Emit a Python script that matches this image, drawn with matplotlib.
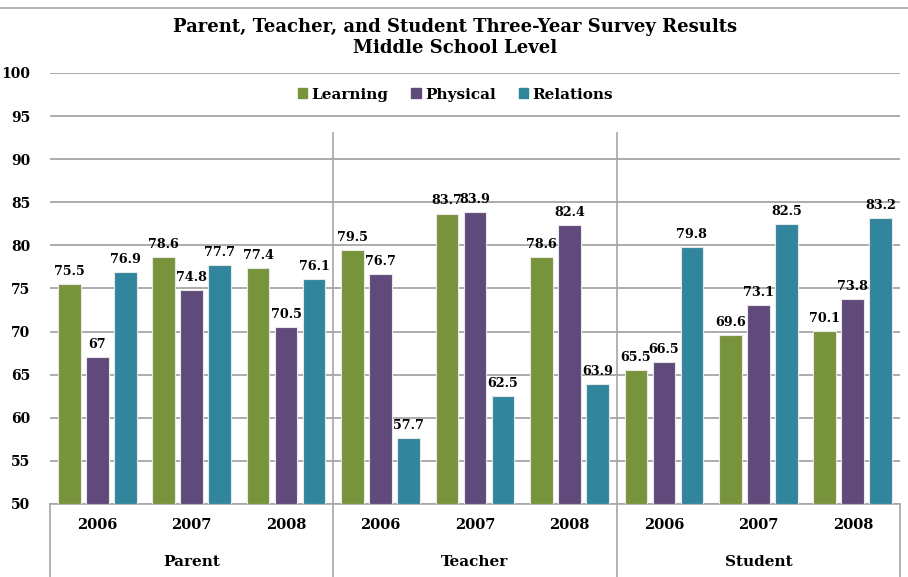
import matplotlib.pyplot as plt
from matplotlib.patches import Patch
from matplotlib.lines import Line2D
import numpy as np

groups = ['Parent', 'Teacher', 'Student']
years = ['2006', '2007', '2008']
series = ['Learning', 'Physical', 'Relations']
colors = ['#77933C', '#604A7B', '#31859C']

learning = [75.5, 78.6, 77.4, 79.5, 83.7, 78.6, 65.5, 69.6, 70.1]
physical = [67, 74.8, 70.5, 76.7, 83.9, 82.4, 66.5, 73.1, 73.8]
relations = [76.9, 77.7, 76.1, 57.7, 62.5, 63.9, 79.8, 82.5, 83.2]

plt.rcParams['font.family'] = 'DejaVu Serif'
plt.rcParams['font.weight'] = 'bold'

fig = plt.figure(figsize=(9.08, 5.77), dpi=100)
ax = fig.add_axes([50 / 908, 73 / 577, 850 / 908, 431 / 577])

x = np.arange(len(learning))
width = 0.24
step = 0.296
for i, (vals, c) in enumerate(zip([learning, physical, relations], colors)):
    pos = x + (i - 1) * step
    ax.bar(pos, [v - 50 for v in vals], width, bottom=50, color=c,
           edgecolor='#e8e8e8', linewidth=0.8, zorder=3)
    for p, v in zip(pos, vals):
        ax.text(p, v + 0.7, f'{v:g}', ha='center', va='bottom',
                fontsize=9.2, fontweight='bold', zorder=4)

ax.set_xlim(-0.5, 8.5)
ax.set_ylim(50, 100)
ax.set_yticks(range(50, 101, 5))
ax.yaxis.grid(True, color='#a6a6a6', linewidth=1.3, zorder=0)
ax.tick_params(axis='y', length=0, pad=14, labelsize=10)
ax.set_xticks([])
for s in ['left', 'right', 'top']:
    ax.spines[s].set_visible(False)
ax.spines['bottom'].set_color('#a6a6a6')
ax.spines['bottom'].set_linewidth(1.2)
for t in ax.get_yticklabels():
    t.set_fontweight('bold')

# group separators inside plot
for b in [2.5, 5.5]:
    ax.plot([b, b], [50, 93], color='#a6a6a6', linewidth=1.2, zorder=1)

# category table below the axis
trans = ax.get_xaxis_transform()
for b in [-0.5, 2.5, 5.5, 8.5]:
    ax.add_line(Line2D([b, b], [0, -0.17], transform=trans, color='#a6a6a6',
                       linewidth=1.2, clip_on=False))
for i in x:
    ax.text(i, -0.049, years[i % 3], transform=trans, ha='center', va='center',
            fontsize=10.5, fontweight='bold')
for g, name in enumerate(groups):
    ax.text(g * 3 + 1, -0.135, name, transform=trans, ha='center', va='center',
            fontsize=11, fontweight='bold')

handles = [Patch(color=c, label=s) for s, c in zip(series, colors)]
ax.legend(handles=handles, loc='center', bbox_to_anchor=(0.477, 0.95), ncol=3,
          frameon=False, handlelength=0.6, handleheight=0.6, handletextpad=0.3,
          columnspacing=1.5, prop={'weight': 'bold', 'size': 11})

fig.text(0.501, 0.935, 'Parent, Teacher, and Student Three-Year Survey Results\nMiddle School Level',
         ha='center', va='center', fontsize=13, fontweight='bold', linespacing=1.15)
fig.add_artist(Line2D([0, 1], [1 - 8 / 577, 1 - 8 / 577], color='#a6a6a6', linewidth=1.2))

fig.savefig('out.png', dpi=100)
